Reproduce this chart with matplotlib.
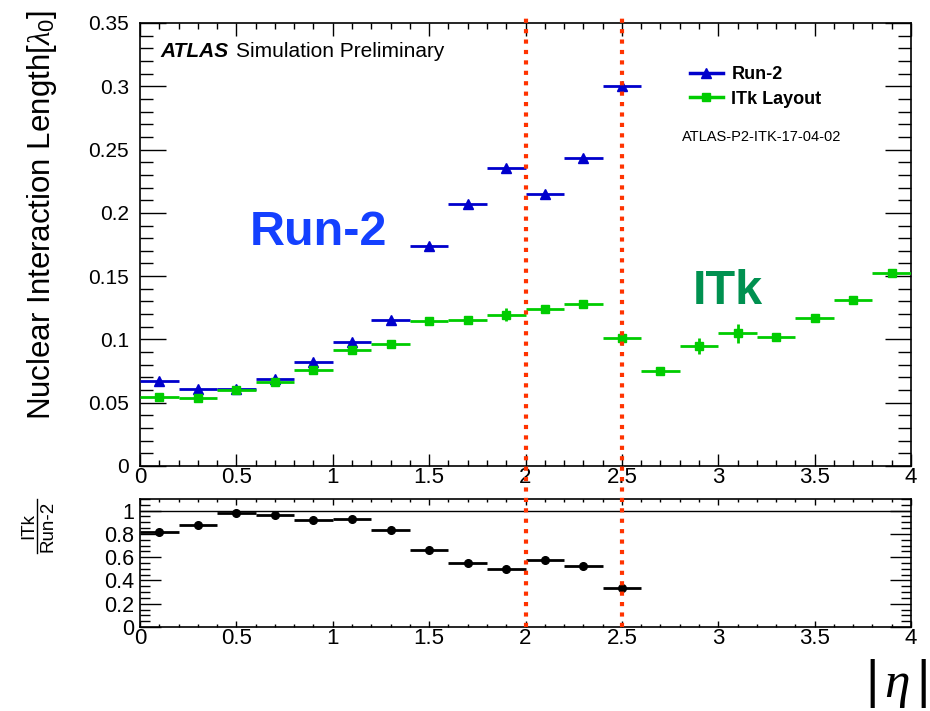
import numpy as np
import matplotlib
matplotlib.use("Agg")
import matplotlib.pyplot as plt
from matplotlib.lines import Line2D
from matplotlib.ticker import MultipleLocator, FuncFormatter
from matplotlib.transforms import blended_transform_factory

plt.rcParams['font.family'] = ['Liberation Sans', 'DejaVu Sans']
plt.rcParams['mathtext.fontset'] = 'custom'
plt.rcParams['mathtext.rm'] = 'Liberation Sans'
plt.rcParams['mathtext.it'] = 'Liberation Serif:italic'
plt.rcParams['mathtext.bf'] = 'Liberation Sans:bold'

# |eta| bins of width 0.2
run2_eta = [0.1, 0.3, 0.5, 0.7, 0.9, 1.1, 1.3, 1.5, 1.7, 1.9, 2.1, 2.3, 2.5]
run2_len = [0.0668, 0.0610, 0.0607, 0.0687, 0.0824, 0.0982, 0.1151, 0.1735,
            0.2067, 0.2357, 0.2150, 0.2436, 0.3002]

itk_eta = [0.1, 0.3, 0.5, 0.7, 0.9, 1.1, 1.3, 1.5, 1.7, 1.9, 2.1, 2.3, 2.5,
           2.7, 2.9, 3.1, 3.3, 3.5, 3.7, 3.9]
itk_len = [0.0547, 0.0538, 0.0603, 0.0666, 0.0760, 0.0916, 0.0964, 0.1148,
           0.1153, 0.1196, 0.1240, 0.1280, 0.1009, 0.0753, 0.0948, 0.1050,
           0.1022, 0.1170, 0.1312, 0.1528]
itk_err = [0.001, 0.001, 0.002, 0.001, 0.001, 0.001, 0.001, 0.001,
           0.002, 0.005, 0.002, 0.003, 0.005, 0.002, 0.006, 0.0075,
           0.002, 0.001, 0.001, 0.001]

ratio_eta = run2_eta
ratio_val = [0.814, 0.880, 0.983, 0.963, 0.920, 0.929, 0.837, 0.658,
             0.553, 0.502, 0.575, 0.522, 0.335]

bin_half = 0.1
boundaries = [2.0, 2.5]

blue = '#0000cc'
green = '#00cc00'
red = '#ff3300'

fig = plt.figure(figsize=(9.3, 7.11), dpi=100)
ax = fig.add_axes([0.15054, 0.34459, 0.82903, 0.62307])
rax = fig.add_axes([0.15054, 0.11814, 0.82903, 0.18003])

ax.errorbar(run2_eta, run2_len, xerr=bin_half, fmt='^', color=blue,
            ms=6.5, elinewidth=2, capsize=0, zorder=3)
ax.errorbar(itk_eta, itk_len, xerr=bin_half, yerr=itk_err, fmt='s', color=green,
            ms=6, elinewidth=2, capsize=0, zorder=4)

ax.set_xlim(0, 4)
ax.set_ylim(0, 0.35)
ax.xaxis.set_major_locator(MultipleLocator(0.5))
ax.xaxis.set_minor_locator(MultipleLocator(0.1))
ax.yaxis.set_major_locator(MultipleLocator(0.05))
ax.yaxis.set_minor_locator(MultipleLocator(0.01))
fmt = FuncFormatter(lambda v, p: '%g' % round(v, 3))
ax.xaxis.set_major_formatter(fmt)
ax.yaxis.set_major_formatter(fmt)
ax.tick_params(which='both', direction='in', top=True, right=True, width=1)
ax.tick_params(axis='x', which='major', length=9, labelsize=16, pad=1)
ax.tick_params(axis='x', which='minor', length=4.5)
ax.tick_params(axis='y', which='major', length=19, labelsize=15, pad=8)
ax.tick_params(axis='y', which='minor', length=9.5)
for s in ax.spines.values():
    s.set_linewidth(1.2)

ax.text(0.026, 0.923, 'ATLAS', transform=ax.transAxes, fontsize=15,
        fontweight='bold', fontstyle='italic', va='baseline')
ax.text(0.1245, 0.923, 'Simulation Preliminary', transform=ax.transAxes,
        fontsize=15, va='baseline')
ax.text(0.703, 0.7427, 'ATLAS-P2-ITK-17-04-02', transform=ax.transAxes,
        fontsize=10.5, va='center')
ax.text(0.1427, 0.526, 'Run-2', transform=ax.transAxes, fontsize=35,
        fontweight='bold', color='#1440ff', va='center', ha='left')
ax.text(0.717, 0.395, 'ITk', transform=ax.transAxes, fontsize=35,
        fontweight='bold', color='#009150', va='center', ha='left')

handles = [Line2D([], [], color=blue, marker='^', ms=6.5, lw=2.5),
           Line2D([], [], color=green, marker='s', ms=6, lw=2.5)]
ax.legend(handles, ['Run-2', 'ITk Layout'], loc='upper left',
          bbox_to_anchor=(0.713, 0.903), frameon=False,
          prop={'weight': 'bold', 'size': 13}, handlelength=1.85,
          handletextpad=0.45, borderpad=0, borderaxespad=0, labelspacing=0.42)

fig.text(42 / 930, 1 - 10 / 711, r'Nuclear Interaction Length$[\lambda_0]$',
         rotation=90, ha='center', va='top', fontsize=22.5)

# ratio panel
rax.errorbar(ratio_eta, ratio_val, xerr=bin_half, fmt='o', color='black',
             ms=5.5, elinewidth=2, capsize=0, zorder=3)
rax.axhline(1.0, color='black', lw=1)
rax.set_xlim(0, 4)
rax.set_ylim(0, 1.1)
rax.xaxis.set_major_locator(MultipleLocator(0.5))
rax.xaxis.set_minor_locator(MultipleLocator(0.1))
rax.yaxis.set_major_locator(MultipleLocator(0.2))
rax.yaxis.set_minor_locator(MultipleLocator(0.05))
rax.xaxis.set_major_formatter(fmt)
rax.yaxis.set_major_formatter(fmt)
rax.tick_params(which='both', direction='in', top=True, right=True, width=1)
rax.tick_params(axis='x', which='major', length=4, labelsize=16, pad=1)
rax.tick_params(axis='x', which='minor', length=2)
rax.tick_params(axis='y', which='major', length=15, labelsize=15.5, pad=4)
rax.tick_params(axis='y', which='minor', length=7.5)
for s in rax.spines.values():
    s.set_linewidth(1.2)

fig.text(29 / 930, 1 - 526 / 711, 'ITk', rotation=90, ha='center', va='center',
         fontsize=13.5)
fig.text(47.5 / 930, 1 - 526 / 711, 'Run-2', rotation=90, ha='center',
         va='center', fontsize=13.5)
fig.add_artist(Line2D([37 / 930, 37 / 930], [1 - 499 / 711, 1 - 553 / 711],
                      transform=fig.transFigure, color='black', lw=1))

fig.text(896 / 930, 1 - 684 / 711, r'$|\,\eta\,|$', ha='center', va='center',
         fontsize=37)

# dotted boundaries through both panels
tr = blended_transform_factory(ax.transData, fig.transFigure)
for b in boundaries:
    fig.add_artist(Line2D([b, b], [1 - 627 / 711, 1 - 18 / 711], transform=tr,
                          color=red, lw=3, dashes=(1, 1.5),
                          dash_capstyle='butt', zorder=10))

fig.savefig('out.png', dpi=100)
